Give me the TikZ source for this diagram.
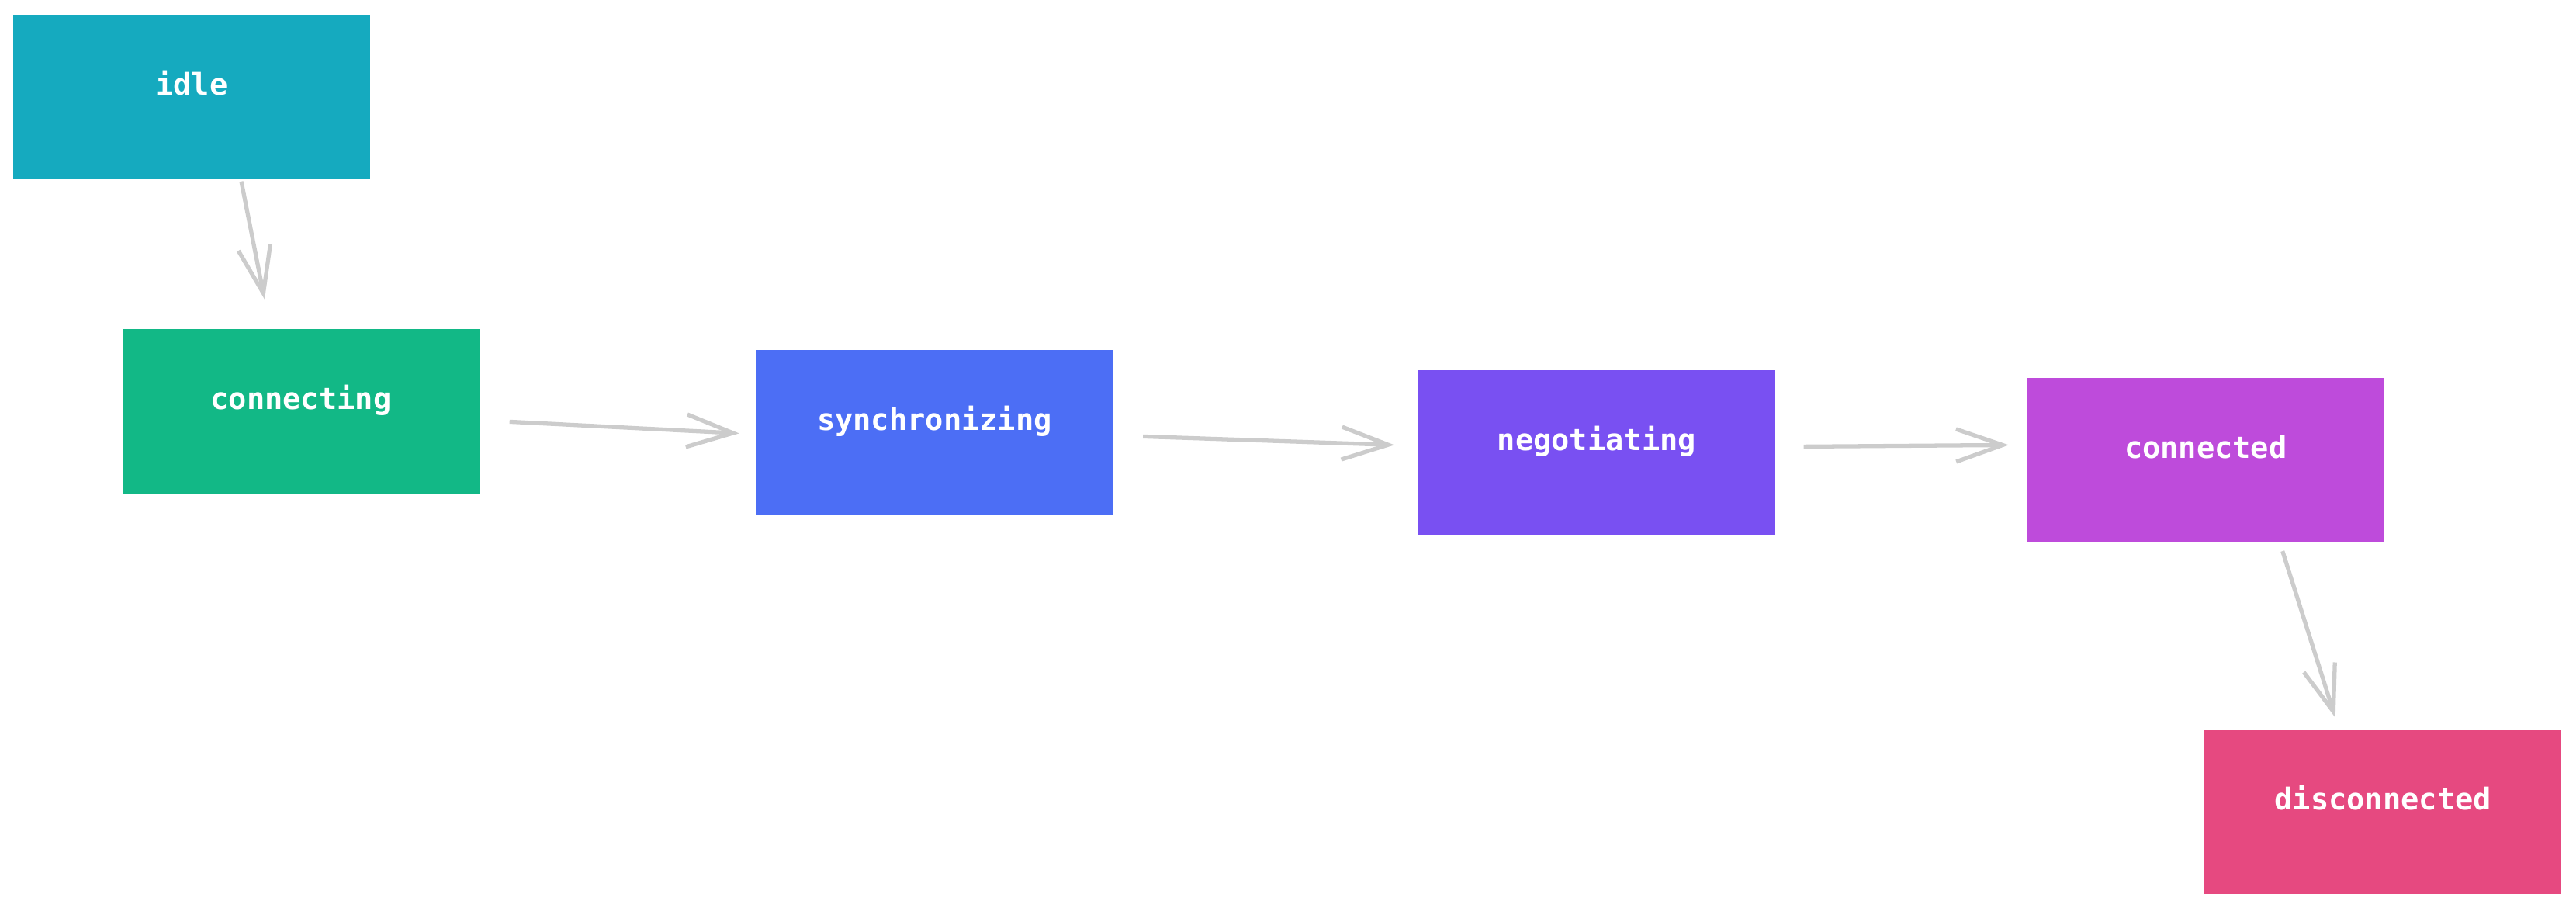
\documentclass[tikz,border=0pt]{standalone}
\usepackage{fontspec}
\setmonofont{DejaVu Sans Mono}
\usepackage{tikz}
\usetikzlibrary{arrows.meta, positioning}

\definecolor{idlecol}{HTML}{15AABF}
\definecolor{connectingcol}{HTML}{12B886}
\definecolor{synccol}{HTML}{4C6EF5}
\definecolor{negcol}{HTML}{7950F2}
\definecolor{connectedcol}{HTML}{BE4BDB}
\definecolor{disccol}{HTML}{E64980}
\definecolor{arrowgray}{HTML}{CCCCCC}

\begin{document}
\begin{tikzpicture}[
  node distance=1.92cm and 3.55cm,
  state/.style={rectangle, minimum width=4.6cm, minimum height=2.12cm, text=white,
    font=\ttfamily\bfseries\fontsize{11}{13}\selectfont, text height=0.3cm, text depth=0.36cm},
  arrow/.style={-{Straight Barb[length=6mm, width=4.2mm]}, draw=arrowgray, line width=1.5pt}
]
\useasboundingbox (0,0) rectangle (33.2,-11.69);

% Nodes
\node[state, fill=idlecol] (idle) at (2.47,-1.25) {idle};
\node[state, fill=connectingcol, below=of idle, xshift=1.41cm] (connecting) {connecting};
\node[state, fill=synccol, right=of connecting, yshift=-0.27cm] (sync) {synchronizing};
\node[state, fill=negcol, right=3.92cm of sync, yshift=-0.26cm] (neg) {negotiating};
\node[state, fill=connectedcol, right=3.235cm of neg, yshift=-0.1cm] (connected) {connected};
\node[state, fill=disccol, below=2.395cm of connected, xshift=2.285cm] (disc) {disconnected};

% Arrows
\draw[arrow] ([xshift=0.64cm, yshift=-0.02cm]idle.south) --
  ([xshift=-0.47cm, yshift=0.38cm]connecting.north);

\draw[arrow] ([xshift=0.38cm, yshift=-0.13cm]connecting.east) --
  ([xshift=-0.21cm, yshift=-0.01cm]sync.west);

\draw[arrow] ([xshift=0.38cm, yshift=-0.05cm]sync.east) --
  ([xshift=-0.30cm, yshift=0.10cm]neg.west);

\draw[arrow] ([xshift=0.36cm, yshift=0.08cm]neg.east) --
  ([xshift=-0.23cm, yshift=0.20cm]connected.west);

\draw[arrow] ([xshift=0.99cm, yshift=-0.10cm]connected.south) --
  ([xshift=-0.615cm, yshift=0.15cm]disc.north);

\end{tikzpicture}
\end{document}
